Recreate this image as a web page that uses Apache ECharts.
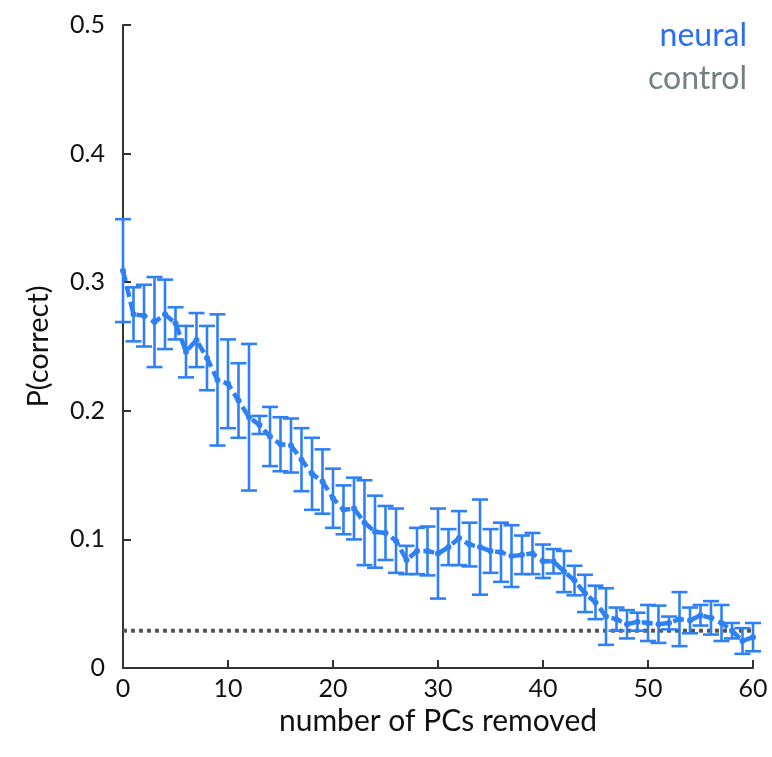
<!DOCTYPE html>
<html>
<head>
<meta charset="utf-8">
<script src="https://cdn.jsdelivr.net/npm/echarts@6/dist/echarts.min.js"></script>
<style>html,body{margin:0;padding:0;background:#fff}#c{width:772px;height:757px}</style>
</head>
<body>
<div id="c"></div>
<script>
var pcsRemoved = [0,1,2,3,4,5,6,7,8,9,10,11,12,13,14,15,16,17,18,19,20,21,22,23,24,25,26,27,28,29,30,31,32,33,34,35,36,37,38,39,40,41,42,43,44,45,46,47,48,49,50,51,52,53,54,55,56,57,58,59,60];
var neuralMean = [0.309,0.275,0.274,0.269,0.275,0.268,0.246,0.255,0.241,0.224,0.221,0.208,0.195,0.189,0.180,0.174,0.173,0.162,0.151,0.145,0.132,0.123,0.124,0.113,0.106,0.105,0.099,0.084,0.091,0.091,0.089,0.094,0.101,0.096,0.094,0.091,0.090,0.087,0.088,0.089,0.083,0.083,0.075,0.068,0.058,0.051,0.040,0.038,0.034,0.036,0.035,0.034,0.035,0.038,0.037,0.041,0.039,0.035,0.029,0.021,0.024];
var neuralErr = [0.040,0.021,0.024,0.035,0.027,0.0125,0.020,0.021,0.025,0.051,0.0345,0.029,0.057,0.007,0.023,0.021,0.021,0.0245,0.028,0.025,0.023,0.019,0.024,0.033,0.028,0.021,0.025,0.011,0.018,0.019,0.035,0.014,0.021,0.017,0.037,0.017,0.023,0.024,0.015,0.016,0.013,0.0095,0.016,0.0115,0.0145,0.013,0.022,0.009,0.011,0.007,0.014,0.0145,0.005,0.021,0.010,0.008,0.013,0.014,0.006,0.010,0.011];
var controlX = [0, 60];
var controlY = [0.029, 0.029];
var legendLabels = ['neural', 'control'];
var yTicks = [0, 0.1, 0.2, 0.3, 0.4, 0.5];
var xTicks = [0, 10, 20, 30, 40, 50, 60];

var blue = '#2f80f5';
var legendColors = ['#2a6ff0', '#738080'];
var font = 'Lato';
var lineData = pcsRemoved.map(function(x,i){return [x, neuralMean[i]];});
var errData = pcsRemoved.map(function(x,i){return [x, neuralMean[i]-neuralErr[i], neuralMean[i]+neuralErr[i]];});
var ctrlData = controlX.map(function(x,i){return [x, controlY[i]];});

var chart = echarts.init(document.getElementById('c'));
chart.setOption({
  animation: false,
  backgroundColor: '#fff',
  textStyle: {fontFamily: font},
  grid: {left: 123, right: 19, top: 25, bottom: 89, containLabel: false},
  graphic: legendLabels.map(function(t, i){
    return {type: 'text', right: 25, top: 20 + i*43, z: 10,
      style: {text: t, fill: legendColors[i], font: '32px ' + font, textAlign: 'right'}};
  }),
  xAxis: {
    type: 'value', min: 0, max: 60, interval: 10,
    name: 'number of PCs removed', nameLocation: 'middle', nameGap: 33,
    nameTextStyle: {fontSize: 30, color: '#111', fontFamily: font},
    axisLine: {show: true, lineStyle: {color: '#333', width: 2}},
    axisTick: {show: true, inside: true, length: 8, lineStyle: {color: '#333', width: 2}},
    axisLabel: {fontSize: 25, color: '#111', margin: 8, fontFamily: font},
    splitLine: {show: false}
  },
  yAxis: {
    type: 'value', min: 0, max: 0.5, interval: 0.1,
    name: 'P(correct)', nameLocation: 'middle', nameGap: 70,
    nameTextStyle: {fontSize: 29, color: '#111', fontFamily: font},
    axisLine: {show: true, lineStyle: {color: '#333', width: 2}},
    axisTick: {show: true, inside: true, length: 8, lineStyle: {color: '#333', width: 2}},
    axisLabel: {fontSize: 25, color: '#111', margin: 18, fontFamily: font},
    splitLine: {show: false}
  },
  series: [
    {
      name: 'control', type: 'line', data: ctrlData, symbol: 'none', z: 1,
      lineStyle: {color: '#555', width: 4, type: [4, 4], cap: 'butt'}
    },
    {
      name: 'neural', type: 'custom', data: errData, z: 2,
      renderItem: function(params, api){
        var x = api.value(0);
        var lo = api.coord([x, api.value(1)]);
        var hi = api.coord([x, api.value(2)]);
        var hw = 8;
        var st = {stroke: blue, lineWidth: 2.6, fill: null};
        return {type: 'group', children: [
          {type: 'line', shape: {x1: lo[0], y1: lo[1], x2: hi[0], y2: hi[1]}, style: st},
          {type: 'line', shape: {x1: lo[0]-hw, y1: lo[1], x2: lo[0]+hw, y2: lo[1]}, style: st},
          {type: 'line', shape: {x1: hi[0]-hw, y1: hi[1], x2: hi[0]+hw, y2: hi[1]}, style: st}
        ]};
      }
    },
    {
      name: 'neural', type: 'line', data: lineData, z: 3,
      symbol: 'circle', symbolSize: 6,
      itemStyle: {color: blue},
      lineStyle: {color: blue, width: 4.5, type: [11, 5]}
    }
  ]
});
</script>
</body>
</html>
